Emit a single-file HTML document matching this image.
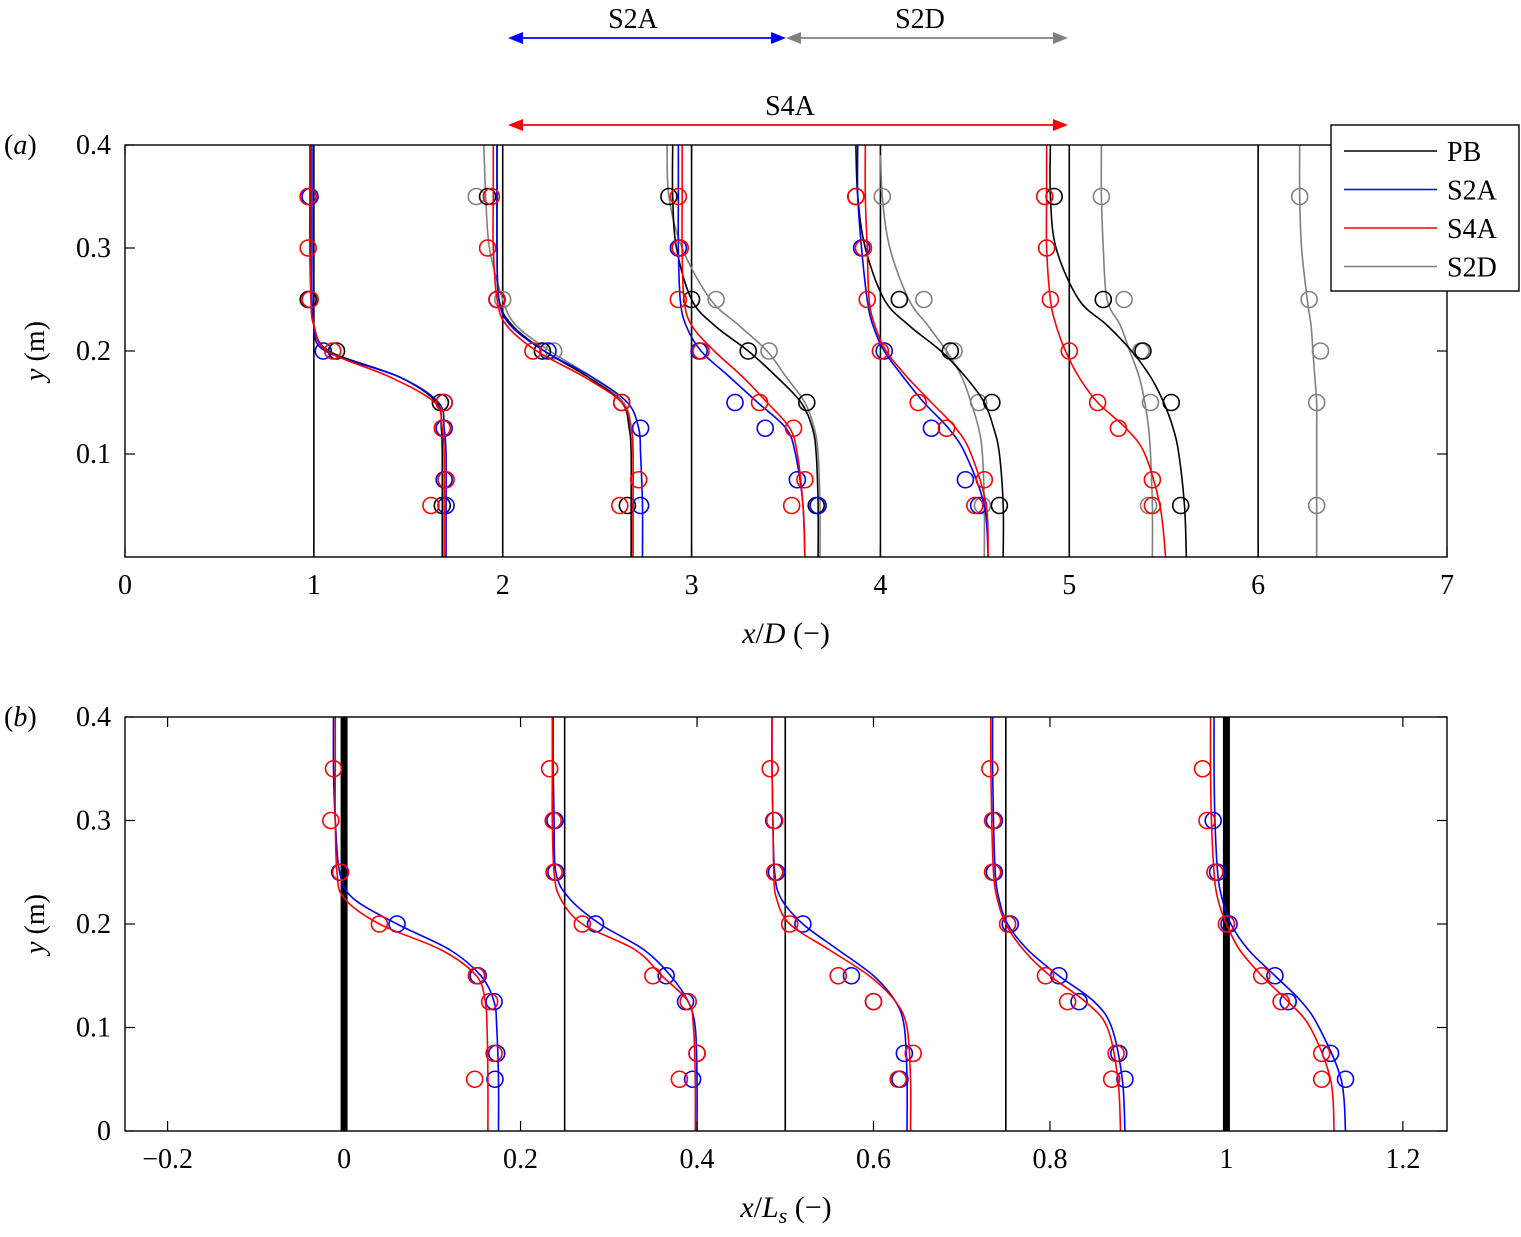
<!DOCTYPE html>
<html><head><meta charset="utf-8"><style>
body{margin:0;background:#fff}
svg{display:block;font-family:"Liberation Serif",serif}
</style></head><body>
<svg id="fig" width="1521" height="1237" viewBox="0 0 1521 1237" xmlns="http://www.w3.org/2000/svg"></svg>
<script>
// ---- data ----
const yGrid=[0,0.05,0.1,0.125,0.15,0.175,0.2,0.225,0.25,0.3,0.35,0.4];
const aStations=[1,2,3,4,5,6];
const aPB=[[1.68,1.68,1.68,1.675,1.65,1.45,1.08,1.0,0.985,0.98,0.98,0.98],[2.68,2.68,2.68,2.67,2.63,2.45,2.22,2.05,1.98,1.97,1.97,1.97],[3.67,3.67,3.66,3.64,3.58,3.45,3.30,3.12,3.00,2.92,2.90,2.90],[4.65,4.65,4.63,4.60,4.55,4.45,4.32,4.15,4.02,3.92,3.88,3.87],[5.62,5.61,5.58,5.55,5.50,5.43,5.33,5.20,5.05,4.93,4.90,4.90]];
const aS2A=[[1.70,1.70,1.70,1.69,1.66,1.45,1.06,1.0,0.99,0.99,0.99,0.99],[2.74,2.74,2.73,2.72,2.66,2.47,2.22,2.04,1.98,1.97,1.97,1.97],[3.60,3.59,3.55,3.50,3.35,3.20,3.05,2.97,2.94,2.93,2.93,2.93],[4.57,4.55,4.45,4.36,4.23,4.12,4.02,3.96,3.93,3.90,3.88,3.88]];
const aS4A=[[1.69,1.69,1.69,1.68,1.64,1.40,1.07,1.0,0.985,0.985,0.985,0.985],[2.69,2.69,2.69,2.68,2.63,2.43,2.18,2.02,1.97,1.95,1.95,1.95],[3.60,3.59,3.56,3.52,3.40,3.27,3.12,3.00,2.96,2.95,2.95,2.95],[4.57,4.56,4.48,4.40,4.27,4.14,4.03,3.97,3.94,3.93,3.92,3.92],[5.51,5.48,5.40,5.30,5.15,5.05,4.98,4.93,4.90,4.88,4.88,4.88]];
const aS2D=[[2.69,2.69,2.69,2.68,2.64,2.47,2.25,2.07,2.0,1.93,1.91,1.90],[3.68,3.68,3.67,3.65,3.60,3.50,3.40,3.25,3.10,2.95,2.88,2.87],[4.55,4.55,4.54,4.52,4.48,4.43,4.35,4.25,4.15,4.05,4.01,4.0],[5.44,5.44,5.43,5.42,5.40,5.37,5.32,5.27,5.20,5.18,5.17,5.17],[6.31,6.31,6.31,6.31,6.31,6.30,6.29,6.28,6.26,6.23,6.22,6.22]];
const aMkPB=[[0.35,0.97],[0.25,0.97],[0.2,1.12],[0.15,1.67],[0.05,1.68],[0.35,1.92],[0.25,1.97],[0.2,2.21],[0.15,2.63],[0.05,2.66],[0.35,2.88],[0.25,3.0],[0.2,3.3],[0.15,3.61],[0.05,3.66],[0.35,3.87],[0.25,4.10],[0.2,4.37],[0.15,4.59],[0.05,4.63],[0.35,4.92],[0.25,5.18],[0.2,5.39],[0.15,5.54],[0.05,5.59]];
const aMkS2A=[[0.35,0.98],[0.25,0.98],[0.2,1.05],[0.15,1.69],[0.125,1.69],[0.075,1.69],[0.05,1.70],[0.25,1.97],[0.2,2.24],[0.125,2.73],[0.05,2.73],[0.3,2.93],[0.2,3.04],[0.15,3.23],[0.125,3.39],[0.075,3.56],[0.05,3.67],[0.3,3.9],[0.2,4.02],[0.125,4.27],[0.075,4.45],[0.05,4.52]];
const aMkS4A=[[0.35,0.97],[0.3,0.97],[0.25,0.98],[0.2,1.1],[0.15,1.69],[0.125,1.68],[0.075,1.70],[0.05,1.62],[0.35,1.94],[0.3,1.92],[0.25,1.97],[0.2,2.16],[0.15,2.63],[0.075,2.72],[0.05,2.62],[0.35,2.93],[0.3,2.94],[0.25,2.93],[0.2,3.05],[0.15,3.36],[0.125,3.54],[0.075,3.6],[0.05,3.53],[0.35,3.87],[0.3,3.91],[0.25,3.93],[0.2,4.0],[0.15,4.2],[0.125,4.35],[0.075,4.55],[0.05,4.5],[0.35,4.87],[0.3,4.88],[0.25,4.9],[0.2,5.0],[0.15,5.15],[0.125,5.26],[0.075,5.44],[0.05,5.44]];
const aMkS2D=[[0.35,1.86],[0.25,2.0],[0.2,2.27],[0.25,3.13],[0.2,3.41],[0.05,3.67],[0.35,4.01],[0.25,4.23],[0.2,4.39],[0.15,4.52],[0.05,4.54],[0.35,5.17],[0.25,5.29],[0.2,5.38],[0.15,5.43],[0.05,5.42],[0.35,6.22],[0.25,6.27],[0.2,6.33],[0.15,6.31],[0.05,6.31]];
const bStations=[0,0.25,0.5,0.75,1];
const bThick=[0,1];
const bS2A=[[0.175,0.175,0.173,0.170,0.155,0.12,0.06,0.01,-0.005,-0.01,-0.012,-0.012],[0.40,0.40,0.398,0.39,0.37,0.34,0.29,0.255,0.24,0.238,0.237,0.237],[0.638,0.638,0.635,0.625,0.60,0.56,0.52,0.495,0.488,0.486,0.485,0.485],[0.885,0.882,0.87,0.85,0.81,0.775,0.752,0.742,0.738,0.736,0.735,0.735],[1.135,1.13,1.105,1.085,1.055,1.025,1.005,0.995,0.99,0.987,0.986,0.986]];
const bS4A=[[0.163,0.163,0.162,0.160,0.150,0.11,0.04,0.0,-0.008,-0.01,-0.01,-0.01],[0.398,0.398,0.396,0.39,0.36,0.33,0.27,0.245,0.238,0.236,0.236,0.236],[0.642,0.642,0.638,0.625,0.595,0.55,0.505,0.49,0.487,0.486,0.485,0.485],[0.880,0.877,0.865,0.84,0.80,0.77,0.75,0.74,0.736,0.734,0.733,0.733],[1.122,1.118,1.095,1.07,1.04,1.015,1.0,0.99,0.986,0.983,0.982,0.982]];
const bMkS2A=[[0.25,-0.005],[0.2,0.06],[0.15,0.152],[0.125,0.17],[0.075,0.173],[0.05,0.171],[0.3,0.239],[0.25,0.24],[0.2,0.285],[0.15,0.365],[0.125,0.387],[0.075,0.40],[0.05,0.395],[0.3,0.487],[0.25,0.49],[0.2,0.52],[0.15,0.575],[0.125,0.60],[0.075,0.635],[0.05,0.63],[0.3,0.737],[0.25,0.737],[0.2,0.755],[0.15,0.81],[0.125,0.833],[0.075,0.878],[0.05,0.885],[0.3,0.985],[0.25,0.99],[0.2,1.003],[0.15,1.055],[0.125,1.07],[0.075,1.118],[0.05,1.135]];
const bMkS4A=[[0.35,-0.012],[0.3,-0.015],[0.25,-0.004],[0.2,0.04],[0.15,0.15],[0.125,0.165],[0.075,0.17],[0.05,0.148],[0.35,0.233],[0.3,0.237],[0.25,0.238],[0.2,0.27],[0.15,0.35],[0.125,0.39],[0.075,0.40],[0.05,0.38],[0.35,0.483],[0.3,0.488],[0.25,0.488],[0.2,0.505],[0.15,0.56],[0.125,0.6],[0.075,0.645],[0.05,0.628],[0.35,0.732],[0.3,0.735],[0.25,0.735],[0.2,0.752],[0.15,0.795],[0.125,0.82],[0.075,0.875],[0.05,0.87],[0.35,0.973],[0.3,0.978],[0.25,0.987],[0.2,1.0],[0.15,1.04],[0.125,1.062],[0.075,1.108],[0.05,1.108]];
const aXTicks=[0,1,2,3,4,5,6,7];
const aYTicks=[0.1,0.2,0.3,0.4];
const bXTicks=[-0.2,0,0.2,0.4,0.6,0.8,1,1.2];
const bYTicks=[0,0.1,0.2,0.3,0.4];

// ---- helpers ----
const NS="http://www.w3.org/2000/svg";
const svg=document.getElementById('fig');
function el(tag,attrs,parent,txt){const e=document.createElementNS(NS,tag);for(const k in attrs)e.setAttribute(k,attrs[k]);if(txt!==undefined)e.textContent=txt;(parent||svg).appendChild(e);return e;}
function smooth(pts){let d=`M${pts[0][0]},${pts[0][1]}`;for(let i=0;i<pts.length-1;i++){const p0=pts[Math.max(i-1,0)],p1=pts[i],p2=pts[i+1],p3=pts[Math.min(i+2,pts.length-1)];const c1=[p1[0]+(p2[0]-p0[0])/6,p1[1]+(p2[1]-p0[1])/6],c2=[p2[0]-(p3[0]-p1[0])/6,p2[1]-(p3[1]-p1[1])/6];d+=` C${c1[0]},${c1[1]} ${c2[0]},${c2[1]} ${p2[0]},${p2[1]}`;}return d;}
function fmt(v){return v<0?'\u2212'+(-v):String(v);}

function panel(P){
  const X=v=>P.x0+(v-P.xmin)/(P.xmax-P.xmin)*(P.x1-P.x0);
  const Y=v=>P.y1-(v-0)/(0.4)*(P.y1-P.y0);
  const g=el('g',{});
  
  
  P.stations.forEach(s=>{const l=el('line',{x1:X(s),x2:X(s),y1:Y(0),y2:Y(0.4),stroke:'#000','stroke-width':P.thick.includes(s)?7:1.6},g);
    
    });
  P.series.forEach(S=>{S.curves.forEach(c=>{const p=el('path',{d:smooth(c.map((x,i)=>[X(x),Y(yGrid[i])])),fill:'none',stroke:S.color,'stroke-width':1.6},g);
      
      });
    S.marks.forEach(m=>{const c=el('circle',{cx:X(m[1]),cy:Y(m[0]),r:8,fill:'none',stroke:S.color,'stroke-width':1.6},g);
      
      });});
  const f=el('rect',{x:P.x0,y:P.y0,width:P.x1-P.x0,height:P.y1-P.y0,fill:'none',stroke:'#000','stroke-width':1.4},g);
  
  
  P.xt.forEach(t=>{const x=X(t);el('line',{x1:x,x2:x,y1:P.y1,y2:P.y1-10,stroke:'#000','stroke-width':1.2},g);el('line',{x1:x,x2:x,y1:P.y0,y2:P.y0+10,stroke:'#000','stroke-width':1.2},g);
    const tx=el('text',{x:x,y:P.y1+37,'font-size':28,'text-anchor':'middle'},g,fmt(t));
    
    });
  P.yt.forEach(t=>{const y=Y(t);el('line',{x1:P.x0,x2:P.x0+10,y1:y,y2:y,stroke:'#000','stroke-width':1.2},g);el('line',{x1:P.x1,x2:P.x1-10,y1:y,y2:y,stroke:'#000','stroke-width':1.2},g);
    const tx=el('text',{x:P.x0-14,y:y+9,'font-size':28,'text-anchor':'end'},g,String(t));
    
    });
  const yl=el('text',{transform:`translate(44,${(P.y0+P.y1)/2}) rotate(-90)`,'font-size':28,'text-anchor':'middle'},g);
  
  
  yl.innerHTML='<tspan font-style="italic">y</tspan> (m)';
  const xl=el('text',{x:(P.x0+P.x1)/2,y:P.y1+86,'font-size':30,'text-anchor':'middle'},g);
  
  
  xl.innerHTML=P.xlabel;
  const pl=el('text',{x:4,y:P.y0+9,'font-size':28},g);
  
  
  pl.innerHTML=P.plabel;
}

panel({name:'panel-a',x0:125,x1:1447,y0:145,y1:557,xmin:0,xmax:7,stations:aStations,thick:[],xt:aXTicks,yt:aYTicks,
  xlabel:'<tspan font-style="italic">x</tspan>/<tspan font-style="italic">D</tspan> (\u2212)',plabel:'(<tspan font-style="italic">a</tspan>)',
  series:[{key:'s2d',color:'#808080',curves:aS2D,marks:aMkS2D},{key:'pb',color:'#000',curves:aPB,marks:aMkPB},{key:'s2a',color:'#0000ff',curves:aS2A,marks:aMkS2A},{key:'s4a',color:'#ff0000',curves:aS4A,marks:aMkS4A}]});
panel({name:'panel-b',x0:125,x1:1447,y0:717,y1:1131,xmin:-0.2483,xmax:1.25,stations:bStations,thick:bThick,xt:bXTicks,yt:bYTicks,
  xlabel:'<tspan font-style="italic">x</tspan>/<tspan font-style="italic">L<tspan font-size="22" dy="6">s</tspan></tspan><tspan dy="-6"> (\u2212)</tspan>',plabel:'(<tspan font-style="italic">b</tspan>)',
  series:[{key:'s2a',color:'#0000ff',curves:bS2A,marks:bMkS2A},{key:'s4a',color:'#ff0000',curves:bS4A,marks:bMkS4A}]});

// legend
const lg=el('g',{});


el('rect',{x:1331,y:125,width:188,height:166,fill:'#fff',stroke:'#000','stroke-width':1.4},lg);
[['PB','#000'],['S2A','#0000ff'],['S4A','#ff0000'],['S2D','#808080']].forEach((e,i)=>{const y=151+i*38.5;
  const gi=el('g',{},lg);
  
  
  el('line',{x1:1344,x2:1437,y1:y,y2:y,stroke:e[1],'stroke-width':1.6},gi);
  el('text',{x:1447,y:y+10,'font-size':28},gi,e[0]);});

// range arrows
function arrow(x1,x2,y,color,label,lx){const g=el('g',{});
  
  
  el('line',{x1:x1+12,x2:x2-12,y1:y,y2:y,stroke:color,'stroke-width':1.8},g);
  el('polygon',{points:`${x1},${y} ${x1+15},${y-6} ${x1+15},${y+6}`,fill:color},g);
  el('polygon',{points:`${x2},${y} ${x2-15},${y-6} ${x2-15},${y+6}`,fill:color},g);
  const t=el('text',{x:lx,y:y-10,'font-size':28,'text-anchor':'middle'},g,label);
  
  }
arrow(508,786,38,'#0000ff','S2A',633);
arrow(786,1068,38,'#808080','S2D',920);
arrow(508,1068,125,'#ff0000','S4A',790);
</script>
</body></html>
